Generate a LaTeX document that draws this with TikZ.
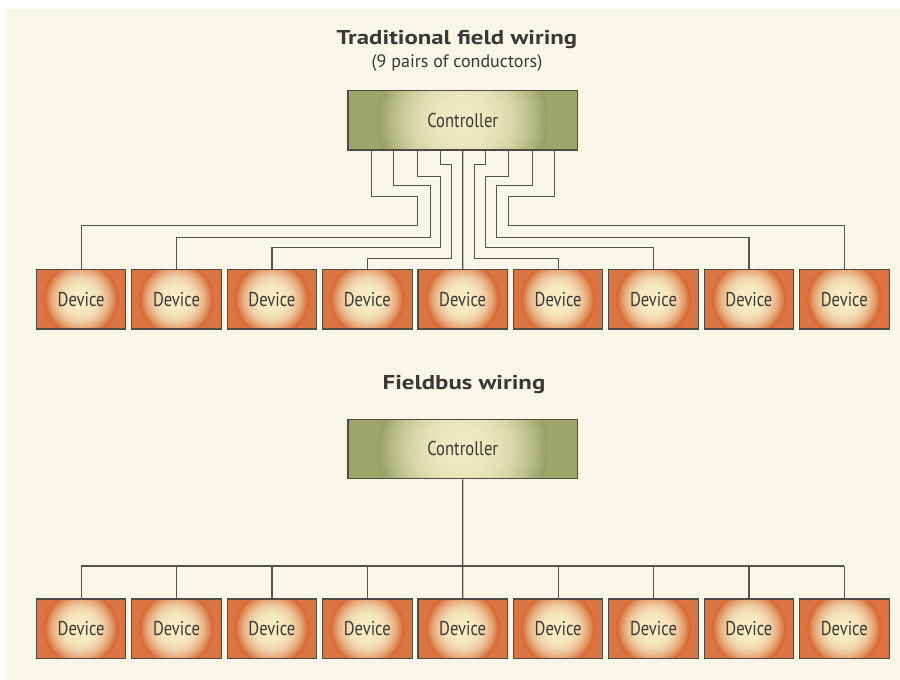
\documentclass[tikz,border=0pt]{standalone}
\usepackage{fontspec}
\setmainfont{PT Sans}[FakeStretch=0.83]
\newfontfamily\headfont{PT Sans}[FakeStretch=1.24]
\newfontfamily\notefont{PT Sans}
\usepackage{xcolor}
\usetikzlibrary{positioning}
\definecolor{fondocrema}{HTML}{F9F6E7}
\definecolor{devnaranja}{HTML}{DA7442}
\definecolor{devclaro}{HTML}{F8EDC6}
\definecolor{devanillo}{HTML}{D76C36}
\definecolor{ctrloliva}{HTML}{9CA66A}
\definecolor{ctrlclaro}{HTML}{EEEAC2}
\definecolor{ctrlanillo}{HTML}{95A262}
\definecolor{borde}{HTML}{4E4A46}
\definecolor{cable}{HTML}{55524D}
\definecolor{texto}{HTML}{3A3836}
\pgfdeclarelayer{glow}
\pgfsetlayers{glow,main}

\begin{document}
\begin{tikzpicture}[
    x=1pt, y=1pt,
    every node/.style={font=\fontsize{20}{22}\selectfont, text=texto},
    device/.style={draw=borde, line width=1.1pt,
        minimum width=89.5pt, minimum height=59.5pt, inner sep=0pt},
    controller/.style={draw=borde, line width=1.1pt,
        minimum width=229.5pt, minimum height=59.5pt, inner sep=0pt},
    heading/.style={font=\headfont\fontsize{20}{22}\selectfont\bfseries},
    wire/.style={draw=cable, line width=1.2pt}
]
\begin{pgfonlayer}{glow}
\fill[white] (0,0) rectangle (900,680);
\fill[fondocrema] (6,0) rectangle (900,671);
\end{pgfonlayer}

% traditional wiring
\node[heading] (titleA) at (457,640) {Traditional field wiring};
\node[font=\notefont\fontsize{18}{20}\selectfont] (subA) at (457,617) {(9 pairs of conductors)};
\node[controller] (ctrlA) at (462.7,559.7) {Controller};

\node[device] (t1) at (81.1,380.7) {Device};
\foreach \i [count=\p from 1] in {2,...,9}
    \node[device, right=4.8pt of t\p] (t\i) {Device};

\foreach \s/\da/\j/\db/\d in {-91/46/-45/29/1, -69/35/-32.3/52/2,
        -45/26/-22.3/71/3, -22.3/14/-11.3/94/4,
        22.4/14/11.7/94/6, 46/26/22.4/71/7,
        70/35/33.4/52/8, 91.7/46/46/29/9}
    \draw[wire] ([xshift=\s pt]ctrlA.south) -- ++(0,-\da) -- ++(\j-\s,0)
        -- ++(0,-\db) -| (t\d.north);
\draw[wire] (ctrlA.south) -- (t5.north);

% fieldbus wiring
\node[heading] (titleB) at (464,295) {Fieldbus wiring};
\node[controller] (ctrlB) at (462.7,231) {Controller};

\node[device] (b1) at (81.1,51.2) {Device};
\foreach \i [count=\p from 1] in {2,...,9}
    \node[device, right=4.8pt of b\p] (b\i) {Device};

\coordinate (bus) at (0,114);
\draw[wire] (ctrlB.south) -- (b5.north);
\draw[wire] (b1.north |- bus) -- (b9.north |- bus);
\foreach \i in {1,...,9}
    \draw[wire] (b\i.north |- bus) -- (b\i.north);

% glow fills under the boxes (rings of colour)
\begin{pgfonlayer}{glow}
\foreach \row in {t,b}
    \foreach \i in {1,...,9} {
        \fill[devnaranja] (\row\i.south west) rectangle (\row\i.north east);
        \begin{scope}
            \clip ([shift={(1.3,1.3)}]\row\i.south west) rectangle ([shift={(-1.3,-1.3)}]\row\i.north east);
            \fill[devanillo] (\row\i.center) circle (37.5pt);
            \foreach \k in {0,...,26} {
                \pgfmathsetmacro\rad{36.5*(1-\k/27)}
                \pgfmathtruncatemacro\pct{100*(1-(1-\k/26)^3)}
                \fill[devclaro!\pct!devanillo] (\row\i.center) circle (\rad pt);
            }
        \end{scope}
    }
\foreach \c in {ctrlA,ctrlB} {
    \fill[ctrloliva] (\c.south west) rectangle (\c.north east);
    \begin{scope}
        \clip ([shift={(1.3,1.3)}]\c.south west) rectangle ([shift={(-1.3,-1.3)}]\c.north east);
        \fill[ctrlanillo] (\c.center) circle (85pt);
        \foreach \k in {0,...,30} {
            \pgfmathsetmacro\rad{83*(1-\k/31)}
            \pgfmathtruncatemacro\pct{100*(1-(1-\k/30)^2.5)}
            \fill[ctrlclaro!\pct!ctrloliva] (\c.center) circle (\rad pt);
        }
    \end{scope}
}
\end{pgfonlayer}
\end{tikzpicture}
\end{document}
